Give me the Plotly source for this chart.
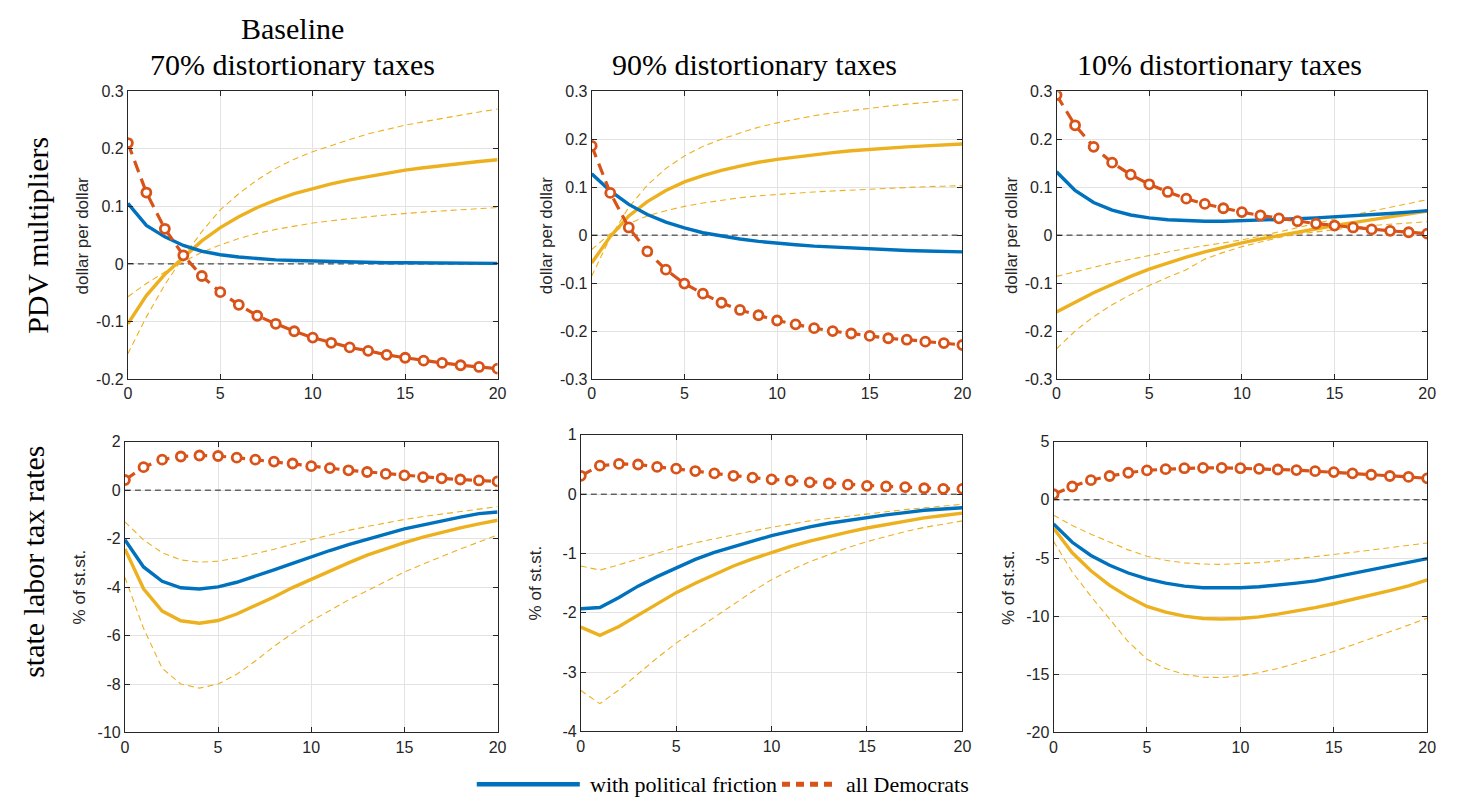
import plotly.graph_objects as go

# ---------------------------------------------------------------- data
periods = list(range(21))

# PDV multipliers (dollar per dollar)
pdv_base_friction = [0.105, 0.067, 0.047, 0.032, 0.022, 0.016, 0.012, 0.009, 0.007, 0.006, 0.005,
                     0.004, 0.003, 0.003, 0.002, 0.002, 0.002, 0.001, 0.001, 0.001, 0.001]
pdv_base_dem = [0.210, 0.124, 0.061, 0.015, -0.021, -0.049, -0.071, -0.090, -0.104, -0.117, -0.128,
                -0.137, -0.145, -0.151, -0.158, -0.163, -0.168, -0.172, -0.176, -0.179, -0.182]
pdv_base_mid = [-0.104, -0.055, -0.018, 0.012, 0.040, 0.063, 0.082, 0.098, 0.111, 0.122, 0.131,
                0.139, 0.146, 0.152, 0.158, 0.163, 0.167, 0.171, 0.175, 0.178, 0.181]
pdv_base_bnd1 = [-0.156, -0.092, -0.036, 0.012, 0.056, 0.094, 0.122, 0.146, 0.166, 0.182, 0.195,
                 0.206, 0.216, 0.226, 0.234, 0.241, 0.247, 0.253, 0.259, 0.264, 0.269]
pdv_base_bnd2 = [-0.057, -0.034, -0.014, 0.004, 0.020, 0.033, 0.044, 0.053, 0.060, 0.066, 0.071,
                 0.075, 0.079, 0.082, 0.085, 0.088, 0.090, 0.092, 0.094, 0.096, 0.098]

pdv_90_friction = [0.128, 0.092, 0.064, 0.043, 0.027, 0.015, 0.005, -0.002, -0.008, -0.013, -0.017,
                   -0.020, -0.023, -0.025, -0.027, -0.029, -0.030, -0.032, -0.033, -0.034, -0.035]
pdv_90_dem = [0.186, 0.088, 0.016, -0.034, -0.072, -0.101, -0.122, -0.141, -0.156, -0.167, -0.178,
              -0.186, -0.194, -0.200, -0.205, -0.210, -0.215, -0.218, -0.222, -0.225, -0.229]
pdv_90_mid = [-0.058, -0.003, 0.040, 0.070, 0.093, 0.111, 0.124, 0.135, 0.144, 0.152, 0.158,
              0.163, 0.168, 0.172, 0.176, 0.179, 0.182, 0.184, 0.186, 0.188, 0.190]
pdv_90_bnd1 = [-0.085, -0.005, 0.058, 0.104, 0.139, 0.165, 0.185, 0.200, 0.213, 0.225, 0.234,
               0.242, 0.249, 0.255, 0.260, 0.265, 0.269, 0.273, 0.277, 0.280, 0.283]
pdv_90_bnd2 = [-0.030, 0.003, 0.024, 0.040, 0.051, 0.060, 0.067, 0.073, 0.078, 0.082, 0.085,
               0.088, 0.090, 0.092, 0.094, 0.096, 0.098, 0.099, 0.101, 0.102, 0.103]

pdv_10_friction = [0.132, 0.093, 0.068, 0.052, 0.042, 0.036, 0.032, 0.030, 0.029, 0.029, 0.030,
                   0.031, 0.033, 0.034, 0.036, 0.038, 0.040, 0.043, 0.045, 0.048, 0.051]
pdv_10_dem = [0.292, 0.229, 0.184, 0.151, 0.126, 0.106, 0.090, 0.076, 0.065, 0.056, 0.048,
              0.041, 0.035, 0.029, 0.024, 0.020, 0.016, 0.012, 0.009, 0.006, 0.003]
pdv_10_mid = [-0.160, -0.139, -0.120, -0.103, -0.086, -0.071, -0.058, -0.046, -0.035, -0.025, -0.016,
              -0.008, -0.001, 0.007, 0.014, 0.020, 0.026, 0.032, 0.038, 0.044, 0.050]
pdv_10_bnd1 = [-0.237, -0.200, -0.170, -0.145, -0.124, -0.105, -0.088, -0.072, -0.050, -0.036, -0.024,
               -0.014, -0.005, 0.002, 0.007, 0.011, 0.016, 0.020, 0.023, 0.026, 0.028]
pdv_10_bnd2 = [-0.086, -0.076, -0.067, -0.058, -0.050, -0.042, -0.035, -0.028, -0.022, -0.016, -0.010,
               -0.002, 0.007, 0.016, 0.025, 0.033, 0.042, 0.050, 0.058, 0.066, 0.074]

# State labor tax rates (% of steady state)
tax_base_friction = [-2.05, -3.17, -3.76, -4.03, -4.08, -3.99, -3.80, -3.56, -3.29, -3.02, -2.75,
                     -2.49, -2.25, -2.02, -1.81, -1.60, -1.43, -1.27, -1.11, -0.97, -0.90]
tax_base_dem = [0.42, 0.95, 1.26, 1.39, 1.43, 1.41, 1.34, 1.26, 1.18, 1.10, 0.99,
                0.91, 0.82, 0.75, 0.67, 0.61, 0.54, 0.49, 0.44, 0.40, 0.36]
tax_base_mid = [-2.43, -4.07, -4.99, -5.39, -5.49, -5.38, -5.11, -4.77, -4.41, -4.02, -3.67,
                -3.35, -3.00, -2.68, -2.42, -2.17, -1.94, -1.74, -1.56, -1.39, -1.24]
tax_base_bnd1 = [-1.31, -2.05, -2.58, -2.88, -2.97, -2.93, -2.80, -2.63, -2.44, -2.23, -2.03,
                 -1.84, -1.66, -1.50, -1.35, -1.21, -1.09, -0.98, -0.87, -0.77, -0.68]
tax_base_bnd2 = [-3.60, -5.70, -7.35, -8.00, -8.17, -8.00, -7.60, -7.05, -6.45, -5.90, -5.40,
                 -4.95, -4.53, -4.15, -3.75, -3.38, -3.05, -2.73, -2.43, -2.14, -1.85]

tax_90_friction = [-1.93, -1.91, -1.74, -1.55, -1.39, -1.24, -1.10, -0.98, -0.88, -0.79, -0.70,
                   -0.62, -0.55, -0.49, -0.44, -0.39, -0.35, -0.31, -0.27, -0.25, -0.23]
tax_90_dem = [0.31, 0.48, 0.51, 0.50, 0.46, 0.43, 0.39, 0.35, 0.31, 0.28, 0.25,
              0.23, 0.20, 0.18, 0.16, 0.14, 0.13, 0.12, 0.10, 0.09, 0.09]
tax_90_mid = [-2.24, -2.38, -2.23, -2.04, -1.85, -1.66, -1.50, -1.35, -1.21, -1.09, -0.98,
              -0.88, -0.79, -0.71, -0.64, -0.57, -0.51, -0.46, -0.40, -0.36, -0.32]
tax_90_bnd1 = [-1.21, -1.28, -1.19, -1.09, -0.99, -0.90, -0.82, -0.75, -0.68, -0.62, -0.56,
               -0.50, -0.45, -0.41, -0.37, -0.33, -0.29, -0.26, -0.23, -0.20, -0.17]
tax_90_bnd2 = [-3.31, -3.53, -3.30, -3.03, -2.76, -2.51, -2.29, -2.07, -1.86, -1.64, -1.44,
               -1.28, -1.14, -1.02, -0.90, -0.80, -0.71, -0.63, -0.56, -0.50, -0.45]

tax_10_friction = [-2.08, -3.65, -4.78, -5.62, -6.29, -6.80, -7.16, -7.42, -7.56, -7.58, -7.56,
                   -7.47, -7.33, -7.16, -6.97, -6.65, -6.38, -6.05, -5.72, -5.39, -5.06]
tax_10_dem = [0.48, 1.15, 1.69, 2.05, 2.33, 2.53, 2.64, 2.72, 2.75, 2.75, 2.72,
              2.67, 2.61, 2.56, 2.47, 2.39, 2.28, 2.16, 2.05, 1.97, 1.85]
tax_10_mid = [-2.44, -4.55, -6.10, -7.36, -8.34, -9.16, -9.66, -10.00, -10.20, -10.25, -10.20,
              -10.06, -9.83, -9.58, -9.27, -8.93, -8.57, -8.20, -7.81, -7.39, -6.88]
tax_10_bnd1 = [-1.32, -2.20, -2.95, -3.65, -4.30, -4.85, -5.20, -5.42, -5.52, -5.55, -5.50,
               -5.40, -5.25, -5.08, -4.90, -4.70, -4.51, -4.32, -4.12, -3.92, -3.71]
tax_10_bnd2 = [-3.57, -6.20, -8.30, -10.30, -12.20, -13.70, -14.50, -15.00, -15.25, -15.28, -15.12,
               -14.85, -14.50, -14.05, -13.55, -13.03, -12.48, -11.92, -11.35, -10.77, -10.17]

x_ticks = [0, 5, 10, 15, 20]
y_ticks_pdv_base = [-0.2, -0.1, 0, 0.1, 0.2, 0.3]
y_ticks_pdv_alt = [-0.3, -0.2, -0.1, 0, 0.1, 0.2, 0.3]
y_ticks_tax_base = [-10, -8, -6, -4, -2, 0, 2]
y_ticks_tax_90 = [-4, -3, -2, -1, 0, 1]
y_ticks_tax_10 = [-20, -15, -10, -5, 0, 5]

col_titles = ["70% distortionary taxes", "90% distortionary taxes", "10% distortionary taxes"]
row_titles = ["PDV multipliers", "state labor tax rates"]
y_titles = ["dollar per dollar", "% of st.st."]
legend_labels = ["with political friction", "all Democrats"]

# ---------------------------------------------------------------- styling
W, H = 1460, 810
BLUE = "#0072BD"
RED = "#D95319"
GOLD = "#EDB120"
AX = "#262626"
GRID = "#e3e3e3"
SANS = "Liberation Sans, Arial, sans-serif"
SERIF = "Liberation Serif, Times New Roman, serif"


def px_x(v):
    return v / W


def px_y(v):
    return 1 - v / H


def fmt(v):
    return "%g" % v


# panel frames in pixels: (left, right, top, bottom)
panels = [
    dict(box=(125, 498, 85, 379), yr=(-0.2, 0.3), yt=y_ticks_pdv_base,
         s=(pdv_base_friction, pdv_base_dem, pdv_base_mid, pdv_base_bnd1, pdv_base_bnd2)),
    dict(box=(593, 967, 85, 379), yr=(-0.3, 0.3), yt=y_ticks_pdv_alt,
         s=(pdv_90_friction, pdv_90_dem, pdv_90_mid, pdv_90_bnd1, pdv_90_bnd2)),
    dict(box=(1062, 1436, 85, 379), yr=(-0.3, 0.3), yt=y_ticks_pdv_alt,
         s=(pdv_10_friction, pdv_10_dem, pdv_10_mid, pdv_10_bnd1, pdv_10_bnd2)),
    dict(box=(122, 498, 443, 740), yr=(-10, 2), yt=y_ticks_tax_base,
         s=(tax_base_friction, tax_base_dem, tax_base_mid, tax_base_bnd1, tax_base_bnd2)),
    dict(box=(582, 967, 436, 739), yr=(-4, 1), yt=y_ticks_tax_90,
         s=(tax_90_friction, tax_90_dem, tax_90_mid, tax_90_bnd1, tax_90_bnd2)),
    dict(box=(1059, 1436, 443, 740), yr=(-20, 5), yt=y_ticks_tax_10,
         s=(tax_10_friction, tax_10_dem, tax_10_mid, tax_10_bnd1, tax_10_bnd2)),
]

fig = go.Figure()
layout = dict(
    width=W, height=H,
    margin=dict(l=0, r=0, t=0, b=0),
    paper_bgcolor="white", plot_bgcolor="white",
    showlegend=False,
    font=dict(family=SANS, color=AX),
)
shapes = []
annotations = []

for i, p in enumerate(panels, start=1):
    l, r, t, b = p["box"]
    xa = "xaxis" if i == 1 else f"xaxis{i}"
    ya = "yaxis" if i == 1 else f"yaxis{i}"
    xref = "x" if i == 1 else f"x{i}"
    yref = "y" if i == 1 else f"y{i}"
    common = dict(showline=True, linecolor=AX, linewidth=1, mirror="ticks",
                  ticks="inside", ticklen=5, tickcolor=AX, tickwidth=1,
                  showgrid=True, gridcolor=GRID, gridwidth=1, zeroline=False,
                  tickfont=dict(family=SANS, size=16, color=AX))
    layout[xa] = dict(domain=[px_x(l), px_x(r)], anchor=yref, range=[0, 20],
                      tickvals=x_ticks, ticktext=[fmt(v) for v in x_ticks], **common)
    layout[ya] = dict(domain=[px_y(b), px_y(t)], anchor=xref, range=list(p["yr"]),
                      tickvals=p["yt"], ticktext=[fmt(v) for v in p["yt"]], **common)

    fr, dem, mid, b1, b2 = p["s"]
    for band in (b1, b2):
        fig.add_trace(go.Scatter(x=periods, y=band, mode="lines", xaxis=xref, yaxis=yref,
                                 line=dict(color=GOLD, width=1.1, dash="6px,4px")))
    fig.add_trace(go.Scatter(x=periods, y=mid, mode="lines", xaxis=xref, yaxis=yref,
                             line=dict(color=GOLD, width=3.4)))
    fig.add_trace(go.Scatter(x=periods, y=fr, mode="lines", xaxis=xref, yaxis=yref,
                             line=dict(color=BLUE, width=3.4)))
    fig.add_trace(go.Scatter(x=periods, y=dem, mode="lines+markers", xaxis=xref, yaxis=yref,
                             line=dict(color=RED, width=3.2, dash="12px,7px"),
                             marker=dict(symbol="circle", size=9, color="white",
                                         line=dict(color=RED, width=2.8))))

    # zero reference line
    shapes.append(dict(type="line", xref=xref, yref=yref, x0=0, x1=20, y0=0, y1=0,
                       line=dict(color="#222222", width=1, dash="6px,4px"), layer="between"))

    # y-axis title
    row = 0 if i <= 3 else 1
    annotations.append(dict(text=y_titles[row], textangle=-90, showarrow=False,
                            xref="paper", yref="paper",
                            x=px_x(l - 46), y=px_y((t + b) / 2),
                            xanchor="center", yanchor="middle",
                            font=dict(family=SANS, size=17, color=AX)))

# column titles
annotations.append(dict(text="Baseline", x=px_x(291), y=px_y(21), xref="paper", yref="paper",
                        showarrow=False, xanchor="center", yanchor="middle",
                        font=dict(family=SERIF, size=30, color="black")))
for cx, txt in zip((291, 757, 1226), col_titles):
    annotations.append(dict(text=txt, x=px_x(cx), y=px_y(58), xref="paper", yref="paper",
                            showarrow=False, xanchor="center", yanchor="middle",
                            font=dict(family=SERIF, size=30, color="black")))

# row titles
for cy, cxp, txt in zip((232, 566), (33, 29), row_titles):
    annotations.append(dict(text=txt, textangle=-90, x=px_x(cxp), y=px_y(cy),
                            xref="paper", yref="paper", showarrow=False,
                            xanchor="center", yanchor="middle",
                            font=dict(family=SERIF, size=30, color="black")))

# legend
shapes.append(dict(type="line", xref="paper", yref="paper",
                   x0=px_x(477), x1=px_x(581), y0=px_y(793), y1=px_y(793),
                   line=dict(color=BLUE, width=4.5)))
shapes.append(dict(type="line", xref="paper", yref="paper",
                   x0=px_x(785), x1=px_x(837), y0=px_y(793), y1=px_y(793),
                   line=dict(color=RED, width=5, dash="8px,6px")))
annotations.append(dict(text=legend_labels[0], x=px_x(589), y=px_y(793), xref="paper",
                        yref="paper", showarrow=False, xanchor="left", yanchor="middle",
                        font=dict(family=SERIF, size=22, color="black")))
annotations.append(dict(text=legend_labels[1], x=px_x(848), y=px_y(793), xref="paper",
                        yref="paper", showarrow=False, xanchor="left", yanchor="middle",
                        font=dict(family=SERIF, size=22, color="black")))

layout["shapes"] = shapes
layout["annotations"] = annotations
fig.update_layout(**layout)
fig.write_html("out.html")
